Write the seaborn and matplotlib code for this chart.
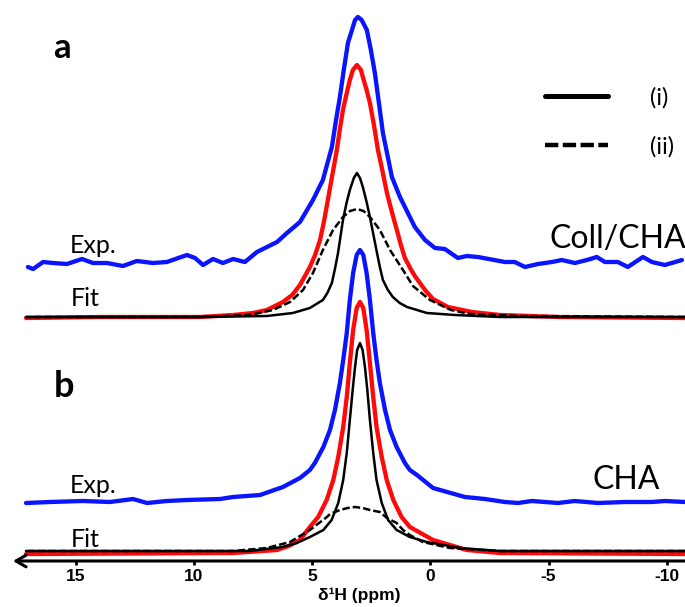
import numpy as np
import pandas as pd
import seaborn as sns
import matplotlib
matplotlib.use("Agg")
import matplotlib.pyplot as plt
from matplotlib.lines import Line2D

# --- panel a (Coll/CHA) (a.u.) ---
a_exp_ppm = [17.03, 16.81, 16.39, 15.97, 15.38, 14.74, 14.28, 13.68, 13.01, 12.42, 11.74, 11.15,
             10.30, 9.96, 9.62, 9.20, 8.78, 8.35, 7.85, 7.34, 6.49, 6.07, 5.52, 4.97, 4.55, 4.17,
             4.00, 3.83, 3.66, 3.49, 3.19, 3.07, 2.91, 2.69, 2.52, 2.35, 2.18, 2.01, 1.63, 1.29,
             1.08, 0.66, 0.23, -0.19, -0.61, -1.16,
             -1.54, -2.01, -3.15, -3.57, -4.00, -4.55, -5.14, -5.56, -6.11, -6.62, -7.04, -7.38,
             -7.93, -8.35, -8.99, -9.37, -9.92, -10.64]
a_exp_int = [294, 292, 299, 298, 297, 302, 298, 298, 295, 300, 298, 299,
             306, 303, 296, 302, 298, 302, 299, 309, 319, 328, 339, 361, 381, 414,
             440, 464, 492, 518, 541, 544, 541, 531, 511, 488, 458, 428, 384, 364,
             354, 334, 321, 313, 312, 303,
             305, 304, 299, 299, 294, 297, 299, 301, 298, 301, 304, 299,
             299, 294, 304, 299, 296, 301]

a_fit_ppm = [17.11, 13.98, 9.75, 8.35, 7.51, 6.92, 6.24, 5.85, 5.52, 5.10, 4.88, 4.67, 4.50,
             4.34, 4.15, 3.96, 3.83, 3.70, 3.55, 3.41, 3.28, 3.11, 2.94, 2.86, 2.71, 2.56, 2.39,
             2.22, 2.03, 1.84, 1.62, 1.42, 1.25, 1.08, 0.86, 0.66, 0.23, -0.11, -0.74, -1.76,
             -2.94, -5.48, -10.77]
a_fit_int = [243, 244, 244, 246, 248, 251, 259, 266, 276, 294, 306, 321, 340,
             361, 386, 411, 432, 451, 467, 481, 491, 496, 491, 484, 472, 458, 436,
             411, 390, 368, 348, 331, 316, 303, 293, 285, 271, 262, 254, 249,
             246, 244, 243]

a_i_ppm = [17.11, 9.75, 6.92, 5.82, 5.10, 4.55, 4.36, 4.17, 4.04, 3.91, 3.70, 3.55, 3.41,
           3.24, 3.11, 2.98, 2.86, 2.71, 2.56, 2.26, 2.13, 2.01, 1.80, 1.59, 1.30, 0.99, 0.15,
           -1.04, -2.94, -10.77]
a_i_int = [244, 244, 245, 248, 253, 261, 268, 278, 292, 308, 341, 358, 371,
           383, 388, 383, 374, 360, 344, 308, 293, 281, 271, 264, 258, 254, 248,
           246, 244, 244]

a_ii_ppm = [17.11, 9.75, 7.64, 6.66, 5.94, 5.39, 4.97, 4.55, 4.12, 3.70, 3.40, 3.11, 2.83,
            2.56, 2.14, 1.71, 1.16, 0.74, 0.02, -0.87, -1.67, -3.79, -10.77]
a_ii_int = [244, 244, 246, 251, 259, 271, 288, 311, 331, 344, 350, 352, 350,
            344, 331, 311, 291, 275, 261, 251, 247, 245, 244]

# --- panel b (CHA) ---
b_exp_ppm = [17.11, 16.10, 14.70, 13.56, 12.58, 11.99, 11.15, 10.30, 8.90, 8.35, 7.21, 6.24,
             5.52, 5.10, 4.89, 4.53, 4.25, 4.04, 3.83, 3.69, 3.54, 3.41, 3.27, 3.12, 2.98,
             2.84, 2.70, 2.56, 2.42, 2.28, 2.14, 1.92, 1.71, 1.43, 1.08, 0.87, 0.57,
             -0.11, -1.46, -2.31, -3.15, -3.70, -4.29, -5.39, -6.11,
             -7.09, -8.23, -9.37, -9.92, -10.77]
b_exp_int = [58, 59, 60, 59, 62, 58, 60, 61, 62, 64, 66, 74,
             83, 91, 98, 114, 131, 151, 178, 201, 228, 261, 288, 306, 311,
             306, 288, 261, 228, 201, 178, 151, 131, 114, 98, 91, 86,
             73, 64, 62, 59, 58, 60, 58, 60,
             58, 59, 59, 60, 59]

b_fit_ppm = [17.11, 8.35, 6.49, 6.00, 5.52, 5.10, 4.75, 4.39, 4.11, 3.90, 3.69, 3.54, 3.41,
             3.27, 3.12, 2.98, 2.84, 2.70, 2.56, 2.42, 2.28, 2.06, 1.85, 1.57, 1.22, 0.87,
             -0.11, -1.54, -2.94, -10.77]
b_fit_int = [7, 8, 11, 15, 21, 34, 44, 61, 81, 104, 134, 164, 198,
             231, 253, 259, 253, 231, 198, 164, 134, 104, 81, 61, 44, 34,
             21, 11, 8, 7]

b_i_ppm = [17.11, 7.64, 6.24, 5.65, 5.10, 4.53, 4.18, 3.90, 3.69, 3.54, 3.41, 3.29, 3.19,
           3.10, 2.98, 2.87, 2.77, 2.67, 2.56, 2.42, 2.28, 2.06, 1.79, 1.43, 0.87, 0.15,
           -1.25, -2.94, -10.77]
b_i_int = [10, 10, 14, 18, 24, 31, 41, 58, 81, 108, 141, 171, 194,
           211, 218, 211, 194, 171, 141, 108, 81, 58, 41, 31, 24, 19,
           13, 10, 10]

b_ii_ppm = [17.11, 8.35, 6.92, 5.94, 5.10, 4.38, 4.25, 3.83, 3.50, 3.19, 2.87, 2.56, 2.14,
            1.84, 1.43, 1.16, 0.87, 0.32, -0.82, -2.94, -10.77]
b_ii_int = [10, 10, 13, 19, 31, 44, 47, 51, 53, 54, 53, 51, 49,
            43, 38, 31, 26, 19, 13, 10, 10]

ticks = [15, 10, 5, 0, -5, -10]
tick_labels = ['15', '10', '5', '0', '-5', '-10']

sns.set_theme(style="white")
plt.rcParams['font.family'] = ['Lato', 'DejaVu Sans']
plt.rcParams['axes.unicode_minus'] = False
plt.rcParams['text.color'] = 'black'
plt.rcParams['axes.labelcolor'] = 'black'
plt.rcParams['xtick.color'] = 'black'

fig = plt.figure(figsize=(6.85, 6.07), dpi=100)
ax = fig.add_axes([13 / 685, 46 / 607, 672 / 685, 561 / 607])

dash = (0, (3, 1.2))
for ppm, val in [(a_exp_ppm, a_exp_int), (b_exp_ppm, b_exp_int)]:
    sns.lineplot(x=ppm, y=val, ax=ax, color='#0a14ff', lw=3.1, estimator=None)
for ppm, val in [(a_fit_ppm, a_fit_int), (b_fit_ppm, b_fit_int)]:
    sns.lineplot(x=ppm, y=val, ax=ax, color='#ff0a0a', lw=3.1, estimator=None)
for ppm, val in [(a_ii_ppm, a_ii_int), (b_ii_ppm, b_ii_int)]:
    sns.lineplot(x=ppm, y=val, ax=ax, color='black', lw=1.8, linestyle=dash, estimator=None)
for ppm, val in [(a_i_ppm, a_i_int), (b_i_ppm, b_i_int)]:
    sns.lineplot(x=ppm, y=val, ax=ax, color='black', lw=1.8, estimator=None)

ax.set_xlim(17.66, -10.77)
ax.set_ylim(0, 561)
ax.set_yticks([])
ax.set_xticks(ticks)
ax.set_xticklabels(tick_labels, fontsize=12.5, fontweight='bold', family='Liberation Sans')
ax.tick_params(axis='x', bottom=True, direction='out', length=3, width=2, pad=3, color='black')
for s in ax.spines.values():
    s.set_visible(False)
ax.annotate('', xy=(0, 0), xycoords='axes fraction', xytext=(1, 0), textcoords='axes fraction',
            arrowprops=dict(arrowstyle='->,head_length=0.6,head_width=0.35', lw=2.2, color='black',
                            shrinkA=0, shrinkB=0))
ax.set_xlabel('δ¹H (ppm)', fontsize=12.5, fontweight='bold', family='Liberation Sans')
ax.xaxis.set_label_coords(0.515, -0.048)

# labels
ax.text(15.25, 308, 'Exp.', fontsize=18)
ax.text(15.21, 255, 'Fit', fontsize=18)
ax.text(15.25, 68, 'Exp.', fontsize=18)
ax.text(15.21, 14, 'Fit', fontsize=18)
ax.text(-5.05, 313, 'Coll/CHA', fontsize=23)
ax.text(-6.87, 72, 'CHA', fontsize=23)
ax.text(15.97, 503, 'a', fontsize=25, fontweight='bold')
ax.text(15.93, 164, 'b', fontsize=26, fontweight='bold')

handles = [Line2D([], [], color='black', lw=3.6),
           Line2D([], [], color='black', lw=3.2, linestyle=(0, (3, 1)))]
ax.legend(handles, ['(i)', '(ii)'], loc='upper left', bbox_to_anchor=(0.792, 0.845),
          frameon=False, fontsize=17, handlelength=2.67, handletextpad=1.78,
          labelspacing=1.15, borderpad=0, borderaxespad=0)

fig.savefig('out.png', dpi=100)
